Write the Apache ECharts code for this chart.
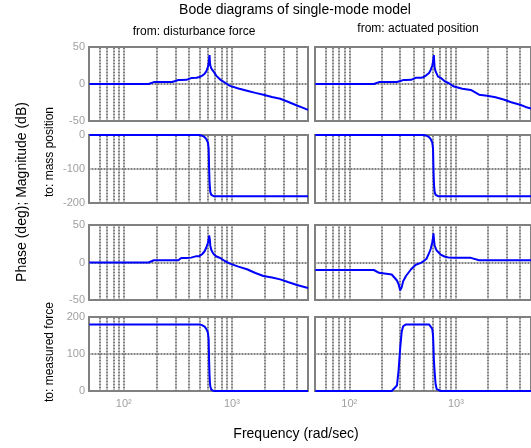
<!DOCTYPE html>
<html>
<head>
<meta charset="utf-8">
<script src="https://cdn.jsdelivr.net/npm/echarts@6/dist/echarts.min.js"></script>
<style>
  html, body { margin: 0; padding: 0; background: #fff; }
  #chart { width: 531px; height: 448px; }
</style>
</head>
<body>
<div id="chart"></div>
<script>
// frequency samples (rad/sec), shared by every panel
var freq = [48, 100, 170, 190, 250, 280, 290, 300, 310, 320, 340, 380, 420, 470, 500, 530, 560, 580, 600, 610,
            616, 621, 626, 632, 645, 660, 680, 720, 780, 860, 960, 1150, 1380, 1650, 1960, 2350, 2800, 3300, 4000, 4500, 5060];

// from: disturbance force
var dfMassMag = [0, 0, 0, 2.6, 2.6, 2.7, 2.8, 4, 5.3, 5.3, 5.4, 5.6, 8, 8.5, 9.5, 11, 14, 17, 23, 28,
                 34, 39, 31, 25, 21, 19, 16.5, 11, 6, 2, -2.5, -6, -9, -12, -14.5, -17.5, -20, -24, -29, -32, -35];
var dfMassPhase = [0, 0, 0, 0, 0, 0, 0, 0, 0, 0, 0, 0, 0, 0, 0, -2, -6, -12, -22, -40,
                   -100, -135, -155, -168, -176, -179, -180, -180, -180, -180, -180, -180, -180, -180, -180, -180, -180, -180, -180, -180, -180];
var dfForceMag = [0, 0, 0, 3, 3, 3, 3, 3, 3, 3, 6, 6, 6.5, 8.5, 8.5, 11, 15, 20, 26, 31,
                  36, 38, 30, 22, 17, 14, 11, 8, 6, 2, -1.5, -5.5, -9, -14, -18, -20, -22.5, -26, -30, -32, -34];
var dfForcePhase = [180, 180, 180, 180, 180, 180, 180, 180, 180, 180, 180, 180, 180, 180, 180, 178, 174, 168, 158, 140,
                    80, 45, 25, 12, 4, 1, 0, 0, 0, 0, 0, 0, 0, 0, 0, 0, 0, 0, 0, 0, 0];

// from: actuated position
var apMassMag = [0, 0, 0, 2.6, 2.6, 2.7, 2.8, 4, 5.3, 5.3, 5.4, 5.6, 8.3, 8.3, 9.5, 12, 15, 19, 25, 30,
                 35, 39, 30, 22, 17, 14, 10, 8.3, 4, 1, -3.5, -6.5, -8, -14.5, -16, -18, -21, -24.6, -28, -31, -33];
var apMassPhase = [0, 0, 0, 0, 0, 0, 0, 0, 0, 0, 0, 0, 0, 0, 0, -2, -6, -12, -22, -40,
                   -100, -135, -155, -168, -176, -179, -180, -180, -180, -180, -180, -180, -180, -180, -180, -180, -180, -180, -180, -180, -180];
var apForceMag = [-10, -10, -10, -13.7, -16, -24, -29, -37, -33, -25, -18, -9, -3, -0.5, 2, 5, 12.5, 18, 27, 33,
                  39, 33, 27, 23, 19, 16, 13.5, 10.5, 8, 6.5, 6.2, 6.2, 6.2, 3, 3, 3, 3, 3, 3, 3, 3];
var apForcePhase = [0, 0, 0, 0, 0, 15, 55, 115, 160, 175, 180, 180, 180, 180, 180, 180, 180, 180, 168, 150,
                    120, 85, 70, 50, 18, 5, 0, 0, 0, 0, 0, 0, 0, 0, 0, 0, 0, 0, 0, 0, 0];

// grid lines and tick labels
var gridFreq = [60, 70, 80, 90, 100, 200, 300, 400, 500, 600, 700, 800, 900, 1000, 2000, 3000, 4000];
var decadeTicks = [100, 1000];
var decadeLabels = ['10²', '10³'];
var rowTitles = ['to: mass position', 'to: measured force'];
var colTitles = ['from: disturbance force', 'from: actuated position'];

var columns = [
    [dfMassMag, dfMassPhase, dfForceMag, dfForcePhase],
    [apMassMag, apMassPhase, apForceMag, apForcePhase]
];
var yRanges = [[-50, 50, 50], [-200, 0, 100], [-50, 50, 50], [0, 200, 100]];

var colLeft = [89, 315];
var colWidth = 219;
var rowTop = [47, 135, 225, 317];
var rowHeight = [74, 68, 75, 74];

var FONT = 'Liberation Sans, Arial, sans-serif';
var GRAY = '#808080';
var myChart = echarts.init(document.getElementById('chart'), null, {renderer: 'canvas'});

var grids = [], xAxes = [], yAxes = [], series = [];
for (var c = 0; c < 2; c++) {
    for (var r = 0; r < 4; r++) {
        var idx = grids.length;
        grids.push({
            left: colLeft[c], top: rowTop[r], width: colWidth, height: rowHeight[r],
            show: true, borderColor: GRAY, borderWidth: 2, backgroundColor: '#fff'
        });
        xAxes.push({
            type: 'log', logBase: 10, gridIndex: idx, min: 47.7, max: 5060,
            axisLine: {show: false}, axisTick: {show: false}, splitLine: {show: false},
            axisLabel: {
                show: r === 3, customValues: decadeTicks, margin: 7,
                color: '#a0a0a0', fontSize: 11, fontFamily: FONT,
                formatter: function (v) { return v < 500 ? decadeLabels[0] : decadeLabels[1]; }
            }
        });
        yAxes.push({
            type: 'value', gridIndex: idx,
            min: yRanges[r][0], max: yRanges[r][1], interval: yRanges[r][2],
            axisLine: {show: false}, axisTick: {show: false},
            axisLabel: {show: c === 0, color: '#a0a0a0', fontSize: 11, fontFamily: FONT, margin: 4},
            splitLine: {show: true, lineStyle: {color: GRAY, type: [1, 0.5], width: 2}}
        });
        // grid lines
        series.push({
            type: 'line', xAxisIndex: idx, yAxisIndex: idx, data: [], z: 1, silent: true,
            markLine: {
                silent: true, symbol: 'none', animation: false,
                label: {show: false},
                lineStyle: {color: GRAY, type: [1, 0.5], width: 2},
                data: gridFreq.map(function (f) { return {xAxis: f}; })
            }
        });
        var vals = columns[c][r];
        series.push({
            type: 'line', xAxisIndex: idx, yAxisIndex: idx, z: 5,
            showSymbol: false, animation: false, silent: true,
            lineStyle: {color: '#0000ff', width: 2},
            data: freq.map(function (f, i) { return [f, vals[i]]; })
        });
    }
}

function label(text, x, y, size, rot) {
    return {
        type: 'text', x: x, y: y, rotation: rot || 0, z: 10,
        style: {text: text, fontSize: size, fontFamily: FONT, fill: '#000',
                textAlign: 'center', textVerticalAlign: 'middle'}
    };
}

var option = {
    backgroundColor: '#fff',
    animation: false,
    grid: grids,
    xAxis: xAxes,
    yAxis: yAxes,
    series: series,
    graphic: [
        label('Bode diagrams of single-mode model', 295, 10, 14),
        label(colTitles[0], 194, 32, 12),
        label(colTitles[1], 418, 29, 12),
        label('Phase (deg); Magnitude (dB)', 22, 192, 14, Math.PI / 2),
        label(rowTitles[0], 50, 152, 12, Math.PI / 2),
        label(rowTitles[1], 50, 352, 12, Math.PI / 2),
        label('Frequency (rad/sec)', 296, 434, 14)
    ]
};

myChart.setOption(option);
</script>
</body>
</html>
